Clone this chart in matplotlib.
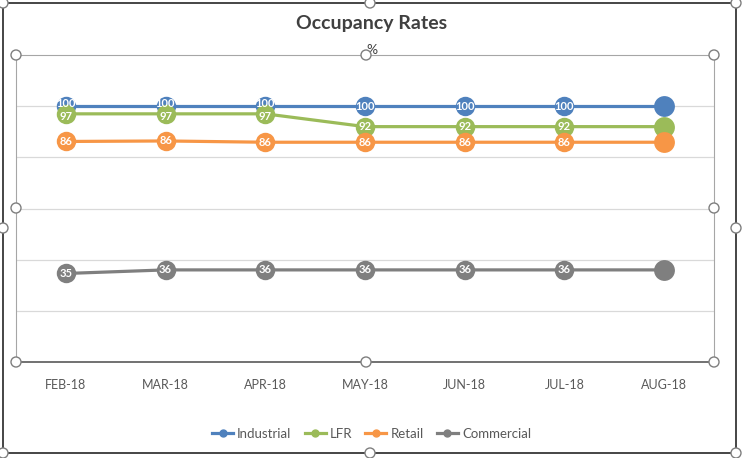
import matplotlib.pyplot as plt
import matplotlib.patches as patches
from matplotlib.lines import Line2D
import numpy as np

plt.rcParams['font.family'] = ['Lato', 'DejaVu Sans']

months = ['FEB-18', 'MAR-18', 'APR-18', 'MAY-18', 'JUN-18', 'JUL-18', 'AUG-18']
industrial = [100, 100, 100, 100, 100, 100, 100]
lfr = [97, 97, 97, 92, 92, 92, 92]
retail = [86.2, 86.4, 85.9, 85.9, 85.9, 85.9, 85.9]
commercial = [34.6, 36.0, 36.0, 36.0, 36.0, 36.0, 36.0]
labels_ind = ['100', '100', '100', '100', '100', '100', '']
labels_lfr = ['97', '97', '97', '92', '92', '92', '']
labels_ret = ['86', '86', '86', '86', '86', '86', '']
labels_com = ['35', '36', '36', '36', '36', '36', '']

series = [
    ('Industrial', industrial, labels_ind, '#4F81BD'),
    ('LFR', lfr, labels_lfr, '#9BBB59'),
    ('Retail', retail, labels_ret, '#F79646'),
    ('Commercial', commercial, labels_com, '#7F7F7F'),
]

W, H = 743, 458
fig = plt.figure(figsize=(W / 100, H / 100), dpi=100)
ax = fig.add_axes([16 / W, 1 - 362 / H, (714 - 16) / W, (362 - 55) / H])

x = np.arange(len(months))
for i, (name, vals, labs, col) in enumerate(series):
    ax.plot(x, vals, color=col, lw=2.3, zorder=3 + i, solid_capstyle='round')
    ax.plot(x[:-1], vals[:-1], 'o', color=col, ms=14, mec='none', zorder=3 + i)
    ax.plot(x[-1:], vals[-1:], 'o', color=col, ms=15, mec='none', zorder=3 + i)

# data labels; where industrial and lfr overlap, nudge them apart
for i, (name, vals, labs, col) in enumerate(series):
    for j, (v, t) in enumerate(zip(vals, labs)):
        if not t:
            continue
        dy = 0
        if name == 'Industrial' and lfr[j] == 97:
            dy = 1.2
        if name == 'LFR' and lfr[j] == 97:
            dy = -1.0
        ax.text(j, v + dy, t, color='white', fontsize=8, fontweight='bold',
                ha='center', va='center', zorder=10)

ax.set_xlim(-0.5, 6.5)
ax.set_ylim(0, 120)
ax.set_yticks([20, 40, 60, 80, 100])
ax.set_yticklabels([])
ax.tick_params(axis='y', length=0)
ax.grid(axis='y', color='#D9D9D9', lw=0.9)
ax.set_axisbelow(True)
ax.set_xticks(x)
ax.set_xticklabels(months, fontsize=9, color='#595959')
ax.tick_params(axis='x', length=0, pad=12)
for s in ['top', 'left', 'right']:
    ax.spines[s].set_color('#A6A6A6')
    ax.spines[s].set_linewidth(0.8)
ax.spines['bottom'].set_color('#595959')
ax.spines['bottom'].set_linewidth(1.2)

fig.text(0.5, 1 - 24 / H, 'Occupancy Rates', ha='center', va='center',
         fontsize=14, fontweight='bold', color='#404040')
fig.text(0.5, 1 - 50 / H, '%', ha='center', va='center', fontsize=10,
         color='#404040')

handles = [Line2D([0], [0], color=c, lw=2.3, marker='o', ms=5) for _, _, _, c in series]
fig.legend(handles, [s[0] for s in series], loc='center', ncol=4,
           bbox_to_anchor=(0.5, 1 - 434 / H), frameon=False, fontsize=9.5,
           labelcolor='#595959', handlelength=1.6, handletextpad=0.3,
           columnspacing=1.0)

# chart area border and selection handles
fig.add_artist(patches.Rectangle((3 / W, 1 - 453 / H), (736 - 3) / W, (453 - 3) / H,
                                 transform=fig.transFigure, fill=False,
                                 ec='#262626', lw=1.2))
hx = [[3, 370, 736, 3, 736, 3, 370, 736], [16, 366, 714, 16, 714, 16, 366, 714]]
hy = [[3, 3, 3, 228, 228, 453, 453, 453], [55, 55, 55, 208, 208, 362, 362, 362]]
for xs, ys in zip(hx, hy):
    for px, py in zip(xs, ys):
        fig.add_artist(patches.Ellipse((px / W, 1 - py / H), 10 / W, 10 / H,
                                       transform=fig.transFigure, fc='white',
                                       ec='#7F7F7F', lw=1.0, zorder=20))

fig.savefig('out.png', dpi=100)
